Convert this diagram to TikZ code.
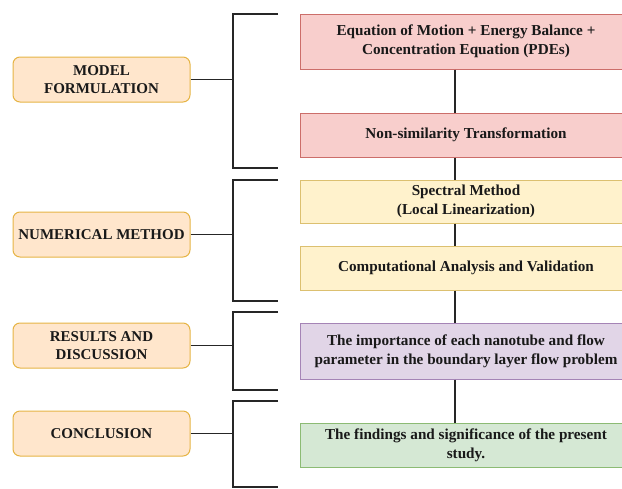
\documentclass[tikz,border=0pt]{standalone}
\usepackage{fontspec}
\setmainfont{Liberation Serif}
\usetikzlibrary{calc}
\definecolor{stageFill}{HTML}{FFE6CC}
\definecolor{stageLine}{HTML}{E6B445}
\definecolor{redFill}{HTML}{F8CECC}
\definecolor{redLine}{HTML}{CC6E6A}
\definecolor{ylwFill}{HTML}{FFF2CC}
\definecolor{ylwLine}{HTML}{DCC070}
\definecolor{prpFill}{HTML}{E1D5E7}
\definecolor{prpLine}{HTML}{A584B6}
\definecolor{grnFill}{HTML}{D5E8D4}
\definecolor{grnLine}{HTML}{8CBB74}
\tikzset{
  stage/.style={draw=stageLine, fill=stageFill, line width=1pt, rounded corners=7pt,
    minimum width=177pt, minimum height=45pt, inner sep=0pt, align=center,
    text=black!90, font=\bfseries\fontsize{15}{18}\selectfont},
  task/.style={line width=1pt, minimum width=332pt, inner sep=0pt, align=center,
    text=black!90, font=\bfseries\fontsize{15.2}{19}\selectfont},
  bar/.style={line width=1.7pt, color=black!85},
  link/.style={line width=1.7pt, color=black!85}
}
\def\bracket(#1)(#2:#3){\draw[bar] (278,#2) -- (233,#2) -- (233,#3) -- (278,#3);
  \draw[bar] (#1.east) -- (#1.east -| spineL);}

\begin{document}
\begin{tikzpicture}[x=1pt,y=-1pt]
			%%%%% START %%%%%
			\useasboundingbox (0,0) rectangle (622,488);
			\coordinate (spineL) at (233,0);
			\coordinate (spine) at (455,0);
			
			\node[stage] (model) at (101.5,79.5) {MODEL\\FORMULATION};
			\node[stage] (numer) at (101.5,234.5) {NUMERICAL METHOD};
			\node[stage] (resul) at (101.5,345.5) {RESULTS AND\\DISCUSSION};
			\node[stage] (concl) at (101.5,433.5) {CONCLUSION};
			
			\node[task, fill=redFill, draw=redLine, minimum height=55pt] (pdes) at (466,41.5)
				{Equation of Motion + Energy Balance +\\Concentration Equation (PDEs)};
			\node[task, fill=redFill, draw=redLine, minimum height=44pt] (nonsim) at (466,135)
				{Non-similarity Transformation};
			\node[task, fill=ylwFill, draw=ylwLine, minimum height=43pt] (spec) at (466,201.5)
				{Spectral Method\\(Local Linearization)};
			\node[task, fill=ylwFill, draw=ylwLine, minimum height=44pt] (comp) at (466,268)
				{Computational Analysis and Validation};
			\node[task, fill=prpFill, draw=prpLine, minimum height=56pt] (impo) at (466,351)
				{The importance of each nanotube and flow\\parameter in the boundary layer flow problem};
			\node[task, fill=grnFill, draw=grnLine, minimum height=44pt] (find) at (466,445)
				{The findings and significance of the present\\study.};
			
			\foreach \a/\b in {pdes/nonsim, nonsim/spec, spec/comp, comp/impo, impo/find}
				\draw[link] (\a.south -| spine) -- (\b.north -| spine);
			
			\bracket(model)(14:168)
			\bracket(numer)(180:301)
			\bracket(resul)(312:390)
			\bracket(concl)(401:487)
			%%%%% END %%%%%
\end{tikzpicture}
\end{document}
